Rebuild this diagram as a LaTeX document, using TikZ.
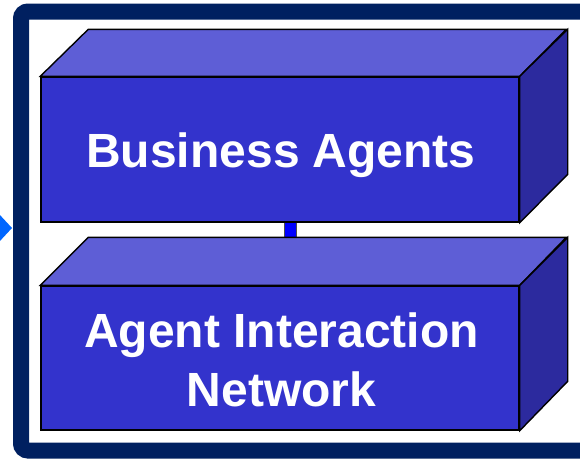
\documentclass[tikz,border=0pt]{standalone}
\usepackage{fontspec}
\setmainfont{Liberation Sans}
\definecolor{framenavy}{RGB}{0,32,96}
\definecolor{arrowblue}{RGB}{0,102,255}
\definecolor{frontc}{RGB}{51,51,204}
\definecolor{topc}{RGB}{94,94,214}
\definecolor{sidec}{RGB}{44,42,158}
\definecolor{linkc}{RGB}{0,0,255}
\tikzset{
  frontface/.style={draw=black, line width=1.4pt, fill=frontc,
    minimum width=478pt, inner sep=0pt},
  lbl/.style={text=white, inner sep=0pt, align=center,
    font=\fontsize{48}{59}\selectfont\bfseries},
  topface/.style={draw=black, line width=1.4pt, fill=topc, line join=miter},
  sideface/.style={draw=black, line width=1.4pt, fill=sidec, line join=miter},
  linkbox/.style={draw=black!70, line width=0.8pt, fill=linkc, minimum width=12pt, minimum height=16pt, inner sep=0pt},
}
\begin{document}
\begin{tikzpicture}[x=1pt,y=-1pt]
\useasboundingbox (0,0) rectangle (580,458);
\clip (0,0) rectangle (580,458);
% frame
\draw[framenavy, line width=16pt, rounded corners=7pt] (21,11.5) rectangle (620,450.5);
% arrow head at left
\fill[arrowblue] (-1,214) -- (12,228) -- (-1,242) -- cycle;
% link between boxes
\node[linkbox] (link) at (290,230) {};
% top box
\node[frontface, minimum height=145pt] (ba) at (280,149.5) {};
\draw[topface] (ba.north west) -- ++(48,-47) -- ++(478,0) -- (ba.north east) -- cycle;
\draw[sideface] (ba.north east) -- ++(48,-47) -- ++(0,145) -- (ba.south east) -- cycle;
\node[lbl, anchor=base] (bal) at (281,167) {Business Agents};
% bottom box
\node[frontface, minimum height=144pt] (ain) at (280,358) {};
\draw[topface] (ain.north west) -- ++(48,-48) -- ++(478,0) -- (ain.north east) -- cycle;
\draw[sideface] (ain.north east) -- ++(48,-48) -- ++(0,144) -- (ain.south east) -- cycle;
\node[lbl, anchor=base] (ainl) at (281.5,406) {Agent Interaction\\Network};
\end{tikzpicture}
\end{document}
